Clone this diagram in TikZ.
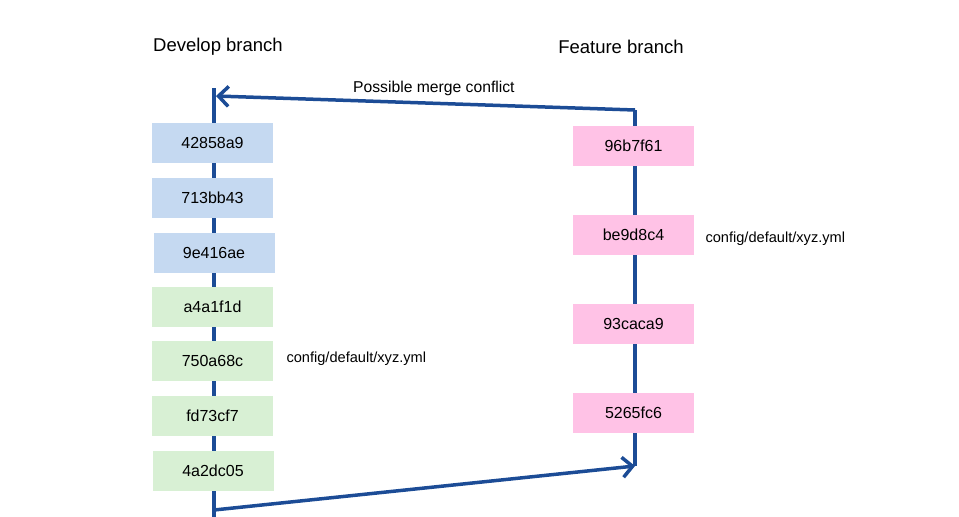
\documentclass[tikz,border=0pt]{standalone}
\usepackage{fontspec}
\setmainfont{Liberation Sans}
\usetikzlibrary{arrows.meta}
\definecolor{devblue}{RGB}{197,217,241}
\definecolor{devgreen}{RGB}{216,240,212}
\definecolor{featpink}{RGB}{255,194,230}
\definecolor{linecol}{RGB}{28,76,150}
\begin{document}
\begin{tikzpicture}[x=1pt,y=-1pt,
  commit/.style={minimum width=121pt,minimum height=40pt,inner sep=0pt,font=\fontsize{16}{18}\selectfont,text depth=1pt},
  bluecommit/.style={commit,fill=devblue},
  greencommit/.style={commit,fill=devgreen},
  pinkcommit/.style={commit,fill=featpink},
  branchline/.style={draw=linecol,line width=3.5pt},
  mergearrow/.style={branchline,-{Straight Barb[length=10pt,width=20pt,line width=3.5pt]}},
  title/.style={font=\fontsize{18.5}{21}\selectfont},
  filelabel/.style={font=\fontsize{14.6}{17}\selectfont,anchor=west}]
\useasboundingbox (0,0) rectangle (959,517);
% branch lines
\coordinate (dtop) at (214,88);
\coordinate (dbot) at (214,517);
\coordinate (dstart) at (214,510);
\coordinate (dend) at (216,96);
\coordinate (ftop) at (635,110);
\coordinate (fbot) at (635,466);
\draw[branchline] (dtop) -- (dbot);
\draw[branchline] (ftop) -- (fbot);
% commits develop
\node[bluecommit] (c1) at (212.5,143) {42858a9};
\node[bluecommit] (c2) at (212.5,198) {713bb43};
\node[bluecommit] (c3) at (214,253) {9e416ae};
\node[greencommit] (c4) at (212.5,307) {a4a1f1d};
\node[greencommit] (c5) at (212.5,361) {750a68c};
\node[greencommit] (c6) at (212.5,416) {fd73cf7};
\node[greencommit] (c7) at (213,471) {4a2dc05};
% commits feature
\node[pinkcommit] (f1) at (633.5,146) {96b7f61};
\node[pinkcommit] (f2) at (633.5,235) {be9d8c4};
\node[pinkcommit] (f3) at (633.5,324) {93caca9};
\node[pinkcommit] (f4) at (633.5,413) {5265fc6};
% merge arrows
\draw[mergearrow] (dstart) -- (fbot);
\draw[mergearrow] (ftop) -- node[above=2pt,font=\fontsize{15.7}{18}\selectfont,pos=0.48] (conf) {Possible merge conflict} (dend);
% titles
\node[title] (tdev) at (218,46.5) {Develop branch};
\node[title] (tfeat) at (621,46.5) {Feature branch};
% file labels
\node[filelabel] (l1) at (283,358.5) {config/default/xyz.yml};
\node[filelabel] (l2) at (702,238.5) {config/default/xyz.yml};
\end{tikzpicture}
\end{document}
